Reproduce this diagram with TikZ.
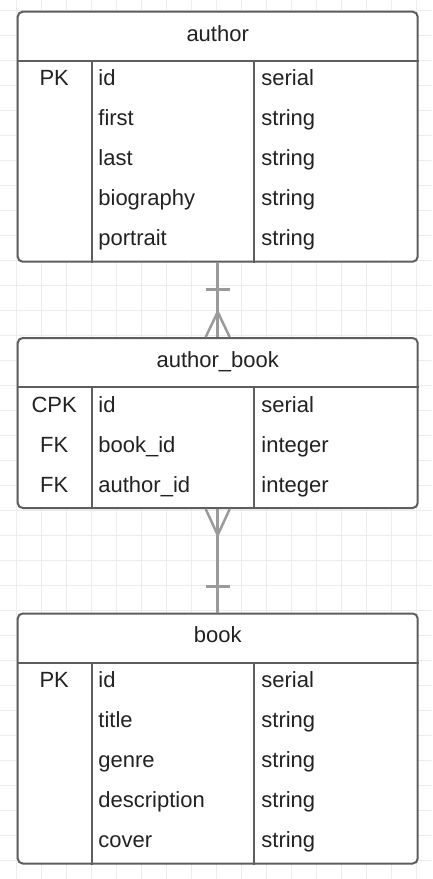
\documentclass[tikz,border=0pt]{standalone}
\usepackage{fontspec}
\setmainfont{Liberation Sans}
\usetikzlibrary{calc,positioning}
\definecolor{gridgray}{HTML}{ECECEC}
\definecolor{boxgray}{HTML}{5E5E5E}
\definecolor{linkgray}{HTML}{9A9A9A}
\definecolor{textblack}{HTML}{222222}
\newcommand{\erfont}{\fontsize{22}{26}\selectfont}
\tikzstyle{table} = [draw=boxgray, line width=2pt, rounded corners=5pt, fill=white, minimum width=400pt, inner sep=0pt, anchor=north west]
\tikzstyle{divider} = [draw=boxgray, line width=2pt]
\tikzstyle{title} = [anchor=base, inner sep=0pt, font=\erfont, text=textblack]
\tikzstyle{keytag} = [anchor=base, inner sep=0pt, font=\erfont, text=textblack]
\tikzstyle{field} = [anchor=base west, inner sep=0pt, font=\erfont, text=textblack]
\tikzstyle{link} = [draw=linkgray, line width=2.5pt]

\begin{document}
\begin{tikzpicture}[x=1pt, y=-1pt]
    \useasboundingbox (0,0) rectangle (432,879);
    % Grid
    \begin{scope}[shift={(16.7,10.7)}]
        \clip (-16.7,-10.7) rectangle (415.3,868.3);
        \draw[gridgray, line width=1pt, step=25pt] (-25pt,25pt) grid (425pt,-875pt);
    \end{scope}

    % Tables
    \node [table, minimum height=250pt] (author) at (16.7,10.7) {};
    \node [table, minimum height=170pt] (authorbook) at (16.7,337) {};
    \node [table, minimum height=250pt] (book) at (16.7,612.5) {};

    % Arrows
    \path [link] (author.south) -- (authorbook.north);
    \path [link] ($(author.south)+(-12,27)$) -- ($(author.south)+(12,27)$);
    \path [link] ($(authorbook.north)+(-12,0)$) -- ($(authorbook.north)+(0,-25)$) -- ($(authorbook.north)+(12,0)$);
    \path [link] (authorbook.south) -- (book.north);
    \path [link] ($(authorbook.south)+(-12,0)$) -- ($(authorbook.south)+(0,26)$) -- ($(authorbook.south)+(12,0)$);
    \path [link] ($(book.north)+(-12,-26)$) -- ($(book.north)+(12,-26)$);

    % Dividers
    \path [divider] ($(author.north west)+(0,50)$) -- ($(author.north east)+(0,50)$);
    \path [divider] ($(author.north west)+(75,50)$) -- ($(author.south west)+(75,0)$);
    \path [divider] ($(author.north west)+(237.3,50)$) -- ($(author.south west)+(237.3,0)$);
    \path [divider] ($(authorbook.north west)+(0,50)$) -- ($(authorbook.north east)+(0,50)$);
    \path [divider] ($(authorbook.north west)+(75,50)$) -- ($(authorbook.south west)+(75,0)$);
    \path [divider] ($(authorbook.north west)+(237.3,50)$) -- ($(authorbook.south west)+(237.3,0)$);
    \path [divider] ($(book.north west)+(0,50)$) -- ($(book.north east)+(0,50)$);
    \path [divider] ($(book.north west)+(75,50)$) -- ($(book.south west)+(75,0)$);
    \path [divider] ($(book.north west)+(237.3,50)$) -- ($(book.south west)+(237.3,0)$);

    % author
    \node [title] (authorTitle) at ($(author.north)+(0,30.3)$) {author};
    \node [keytag] (authorIdKey) at ($(author.north west)+(37.5,75)$) {PK};
    \node [field] (authorId) at ($(author.north west)+(81.5,75)$) {id};
    \node [field] (authorIdType) at ($(author.north west)+(244.5,75)$) {serial};
    \node [field] (authorFirst) at ($(author.north west)+(81.5,115)$) {first};
    \node [field] (authorFirstType) at ($(author.north west)+(244.5,115)$) {string};
    \node [field] (authorLast) at ($(author.north west)+(81.5,155)$) {last};
    \node [field] (authorLastType) at ($(author.north west)+(244.5,155)$) {string};
    \node [field] (authorBio) at ($(author.north west)+(81.5,195)$) {biography};
    \node [field] (authorBioType) at ($(author.north west)+(244.5,195)$) {string};
    \node [field] (authorPortrait) at ($(author.north west)+(81.5,235)$) {portrait};
    \node [field] (authorPortraitType) at ($(author.north west)+(244.5,235)$) {string};

    % author_book
    \node [title] (authorbookTitle) at ($(authorbook.north)+(0,30.3)$) {author\_book};
    \node [keytag] (authorbookIdKey) at ($(authorbook.north west)+(37.5,75)$) {CPK};
    \node [field] (authorbookId) at ($(authorbook.north west)+(81.5,75)$) {id};
    \node [field] (authorbookIdType) at ($(authorbook.north west)+(244.5,75)$) {serial};
    \node [keytag] (authorbookBookKey) at ($(authorbook.north west)+(37.5,115)$) {FK};
    \node [field] (authorbookBook) at ($(authorbook.north west)+(81.5,115)$) {book\_id};
    \node [field] (authorbookBookType) at ($(authorbook.north west)+(244.5,115)$) {integer};
    \node [keytag] (authorbookAuthorKey) at ($(authorbook.north west)+(37.5,155)$) {FK};
    \node [field] (authorbookAuthor) at ($(authorbook.north west)+(81.5,155)$) {author\_id};
    \node [field] (authorbookAuthorType) at ($(authorbook.north west)+(244.5,155)$) {integer};

    % book
    \node [title] (bookTitle) at ($(book.north)+(0,30.3)$) {book};
    \node [keytag] (bookIdKey) at ($(book.north west)+(37.5,75)$) {PK};
    \node [field] (bookId) at ($(book.north west)+(81.5,75)$) {id};
    \node [field] (bookIdType) at ($(book.north west)+(244.5,75)$) {serial};
    \node [field] (bookTitleField) at ($(book.north west)+(81.5,115)$) {title};
    \node [field] (bookTitleType) at ($(book.north west)+(244.5,115)$) {string};
    \node [field] (bookGenre) at ($(book.north west)+(81.5,155)$) {genre};
    \node [field] (bookGenreType) at ($(book.north west)+(244.5,155)$) {string};
    \node [field] (bookDesc) at ($(book.north west)+(81.5,195)$) {description};
    \node [field] (bookDescType) at ($(book.north west)+(244.5,195)$) {string};
    \node [field] (bookCover) at ($(book.north west)+(81.5,235)$) {cover};
    \node [field] (bookCoverType) at ($(book.north west)+(244.5,235)$) {string};
\end{tikzpicture}
\end{document}
